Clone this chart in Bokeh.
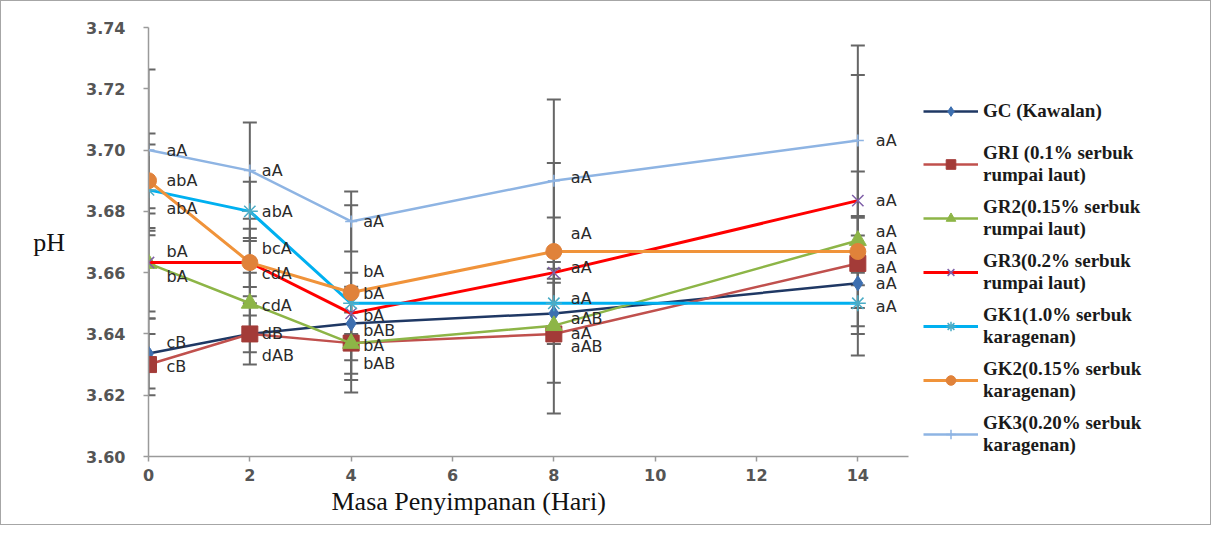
from bokeh.plotting import figure
from bokeh.layouts import row
from bokeh.models import (ColumnDataSource, Whisker, TeeHead, Legend, LegendItem,
                          FixedTicker, Range1d, NumeralTickFormatter, Label, Title)
from bokeh.embed import file_html
from bokeh.resources import INLINE
from bokeh.core.properties import value

# ---------------- data ----------------
days = [0, 2, 4, 8, 14]

names = ["GC", "GRI", "GR2", "GR3", "GK1", "GK2", "GK3"]
legend_labels = [
    "GC (Kawalan)",
    "GRI (0.1% serbuk\nrumpai laut)",
    "GR2(0.15% serbuk\nrumpai laut)",
    "GR3(0.2% serbuk\nrumpai laut)",
    "GK1(1.0% serbuk\nkaragenan)",
    "GK2(0.15% serbuk\nkaragenan)",
    "GK3(0.20% serbuk\nkaragenan)",
]

ph_GC  = [3.6336, 3.6400, 3.6434, 3.6467, 3.6565]
ph_GRI = [3.6300, 3.6400, 3.6370, 3.6400, 3.6630]
ph_GR2 = [3.6630, 3.6500, 3.6369, 3.6427, 3.6705]
ph_GR3 = [3.6633, 3.6633, 3.6467, 3.6600, 3.6835]
ph_GK1 = [3.6870, 3.6800, 3.6500, 3.6500, 3.6500]
ph_GK2 = [3.6900, 3.6633, 3.6535, 3.6669, 3.6669]
ph_GK3 = [3.7000, 3.6933, 3.6767, 3.6900, 3.7031]

err_GC  = [0.0114, 0.0060, 0.0120, 0.0100, 0.0080]
err_GRI = [0.0100, 0.0100, 0.0100, 0.0260, 0.0300]
err_GR2 = [0.0180, 0.0100, 0.0160, 0.0186, 0.0080]
err_GR3 = [0.0160, 0.0080, 0.0080, 0.0180, 0.0410]
err_GK1 = [0.0148, 0.0097, 0.0100, 0.0080, 0.0100]
err_GK2 = [0.0154, 0.0110, 0.0285, 0.0289, 0.0110]
err_GK3 = [0.0263, 0.0157, 0.0098, 0.0265, 0.0310]

let_GC  = ["cB", "dB", "bAB", "aAB", "aA"]
let_GRI = ["cB", "dAB", "bAB", "aAB", "aA"]
let_GR2 = ["bA", "cdA", "bA", "aA", "aA"]
let_GR3 = ["bA", "cdA", "bA", "aA", "aA"]
let_GK1 = ["abA", "abA", "bA", "aA", "aA"]
let_GK2 = ["abA", "bcA", "bA", "aA", "aA"]
let_GK3 = ["aA", "aA", "aA", "aA", "aA"]

y_ticks = [3.60, 3.62, 3.64, 3.66, 3.68, 3.70, 3.72, 3.74]
x_ticks = [0, 2, 4, 6, 8, 10, 12, 14]

# ---------------- layout / style (not data) ----------------
label_dy = {  # screen px, down positive
    "GC":  [-11, 0, 7, 5, 0],
    "GRI": [2, 22, 20, 13, 4],
    "GR2": [13, 2, 2, 8, -9],
    "GR3": [-11, 11, 2, -5, 0],
    "GK1": [19, 0, -10, -5, 3],
    "GK2": [0, -14, -21, -18, -3],
    "GK3": [0, 0, 0, -3, 0],
}
label_dx = [18, 12, 12, 17, 18]

styles = {
    "GC":  dict(line="#1f3864", lw=2.5, marker="diamond", size=15, fill="#3d6fb0", mline="#3d6fb0", mlw=1),
    "GRI": dict(line="#c0504d", lw=2.5, marker="square", size=16, fill="#a33b38", mline="#a33b38", mlw=1),
    "GR2": dict(line="#8db547", lw=2.5, marker="triangle", size=17, fill="#8db547", mline="#8db547", mlw=1),
    "GR3": dict(line="#ff0000", lw=3, marker="x", size=16, fill="#7f5fa8", mline="#7f5fa8", mlw=1.5),
    "GK1": dict(line="#00b0f0", lw=3, marker="asterisk", size=16, fill="#4bacc6", mline="#4bacc6", mlw=1.5),
    "GK2": dict(line="#f0933a", lw=3, marker="circle", size=16, fill="#e0823a", mline="#e0823a", mlw=1),
    "GK3": dict(line="#8eb4e3", lw=2.5, marker="cross", size=12, fill="#8eb4e3", mline="#8eb4e3", mlw=1.5),
}

values = dict(GC=ph_GC, GRI=ph_GRI, GR2=ph_GR2, GR3=ph_GR3, GK1=ph_GK1, GK2=ph_GK2, GK3=ph_GK3)
errors = dict(GC=err_GC, GRI=err_GRI, GR2=err_GR2, GR3=err_GR3, GK1=err_GK1, GK2=err_GK2, GK3=err_GK3)
letters = dict(GC=let_GC, GRI=let_GRI, GR2=let_GR2, GR3=let_GR3, GK1=let_GK1, GK2=let_GK2, GK3=let_GK3)

MAIN_W, LEG_W, H = 922, 287, 523

p = figure(width=MAIN_W, height=H, output_backend="svg", toolbar_location=None,
           x_range=Range1d(0, 15), y_range=Range1d(3.60, 3.74),
           min_border_left=147, min_border_right=MAIN_W - 147 - 760,
           min_border_top=26, min_border_bottom=H - 26 - 429)
p.outline_line_color = None
p.xgrid.visible = False
p.ygrid.visible = False
p.background_fill_color = "white"
p.border_fill_color = "white"

tick_font = "DejaVu Sans"
for ax in (p.xaxis[0], p.yaxis[0]):
    ax.axis_line_color = "#9a9a9a"
    ax.axis_line_width = 1.5
    ax.major_tick_line_color = "#9a9a9a"
    ax.major_tick_line_width = 1.5
    ax.major_tick_in = 0
    ax.major_tick_out = 5
    ax.minor_tick_line_color = None
    ax.major_label_text_font = tick_font
    ax.major_label_text_font_size = "16px"
    ax.major_label_text_font_style = "bold"
    ax.major_label_text_color = "#555555"
    ax.axis_label_text_font = "Liberation Serif"
    ax.axis_label_text_font_size = "26px"
    ax.axis_label_text_font_style = "normal"
    ax.axis_label_text_color = "#111111"

p.xaxis[0].ticker = FixedTicker(ticks=x_ticks)
p.yaxis[0].ticker = FixedTicker(ticks=y_ticks)
p.yaxis[0].formatter = NumeralTickFormatter(format="0.00")
p.xaxis[0].major_label_standoff = 7
p.yaxis[0].major_label_standoff = 18

try:
    p.yaxis[0].axis_label_orientation = "horizontal"
    p.yaxis[0].axis_label = "pH"
    p.yaxis[0].axis_label_standoff = 18
except Exception:
    p.add_layout(Label(x=-2.4, y=3.664, text="pH", text_font="Liberation Serif",
                       text_font_size="26px", text_baseline="middle"))

xtitle = Title(text="Masa Penyimpanan (Hari)", align="left", offset=183,
               text_font="Liberation Serif", text_font_size="26px",
               text_font_style="normal", text_color="#111111", standoff=2)
p.add_layout(xtitle, "below")

# error bars first
for n in names:
    src = ColumnDataSource(dict(
        x=days,
        upper=[v + e for v, e in zip(values[n], errors[n])],
        lower=[v - e for v, e in zip(values[n], errors[n])],
    ))
    w = Whisker(base="x", upper="upper", lower="lower", source=src,
                line_color="#666666", line_width=2,
                upper_head=TeeHead(size=14, line_color="#666666", line_width=2),
                lower_head=TeeHead(size=14, line_color="#666666", line_width=2))
    p.add_layout(w)

# legend-only figure (the same series, drawn outside its visible range)
lf = figure(width=LEG_W, height=H, output_backend="svg", toolbar_location=None,
            x_range=Range1d(100, 101), y_range=Range1d(100, 101),
            x_axis_type=None, y_axis_type=None,
            min_border_left=0, min_border_right=0, min_border_top=0, min_border_bottom=0)
lf.outline_line_color = None
lf.xgrid.visible = False
lf.ygrid.visible = False
lf.border_fill_color = "white"
lf.background_fill_color = "white"

items = []
for n, lab in zip(names, legend_labels):
    s = styles[n]
    src = ColumnDataSource(dict(x=days, y=values[n]))
    p.line("x", "y", source=src, line_color=s["line"], line_width=s["lw"])
    p.scatter("x", "y", source=src, marker=s["marker"], size=s["size"],
              fill_color=s["fill"], line_color=s["mline"], line_width=s["mlw"])
    lr = lf.line("x", "y", source=src, line_color=s["line"], line_width=s["lw"])
    sr = lf.scatter("x", "y", source=src, marker=s["marker"], size=s["size"],
                    fill_color=s["fill"], line_color=s["mline"], line_width=s["mlw"])
    items.append(LegendItem(label=lab, renderers=[lr, sr]))

for n in names:
    tsrc = ColumnDataSource(dict(x=days, y=values[n], t=letters[n],
                                 xo=label_dx, yo=label_dy[n]))
    p.text(x="x", y="y", text="t", x_offset="xo", y_offset="yo", source=tsrc,
           text_font=value("DejaVu Sans"), text_font_size="16px",
           text_baseline="middle", text_align="left", text_color="#2a2a2a")

legend = Legend(items=items, location=(0, 0), orientation="vertical",
                label_text_font="Liberation Serif", label_text_font_size="19px",
                label_text_font_style="bold",
                label_text_color="#1a1a1a",
                label_height=43, glyph_width=55, glyph_height=24, spacing=10,
                padding=0, margin=0, label_standoff=5,
                border_line_color=None, background_fill_alpha=0)
lf.add_layout(legend)

layout = row(p, lf, spacing=0)
layout.styles = {"border": "1px solid #a6a6a6"}

open("out.html", "w").write(file_html(layout, INLINE))
